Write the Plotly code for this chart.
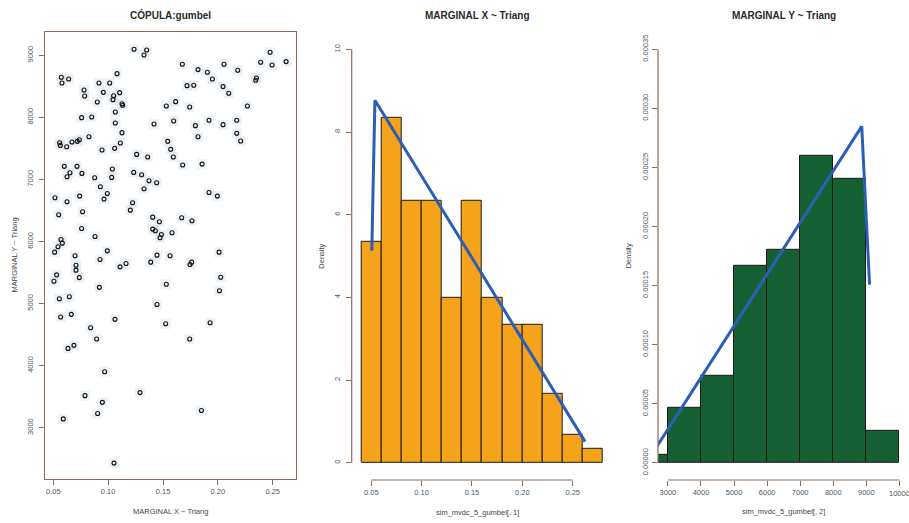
import plotly.graph_objects as go

# --- simulated Gumbel-copula sample (X, Y) ---
sim_x = [
    0.1236, 0.1351, 0.1327, 0.2476, 0.2622, 0.2390, 0.2494, 0.1676, 0.2056, 0.1819,
    0.1904, 0.2181, 0.1950, 0.2351, 0.2345, 0.1081, 0.0573, 0.0579, 0.0640, 0.0916,
    0.1014, 0.1719, 0.1780, 0.2047, 0.2099, 0.0780, 0.0786, 0.0956, 0.1105, 0.1050,
    0.1044, 0.1126, 0.1132, 0.0901, 0.1530, 0.1615, 0.1743, 0.2269, 0.0758, 0.0850,
    0.1065, 0.1065, 0.1418, 0.1597, 0.1795, 0.1919, 0.2047, 0.2172, 0.2172, 0.2208,
    0.1819, 0.1126, 0.0558, 0.0564, 0.0622, 0.0670, 0.0719, 0.0737, 0.0825, 0.0944,
    0.1059, 0.1111, 0.1543, 0.1570, 0.1594, 0.1260, 0.1360, 0.1679, 0.1856, 0.0600,
    0.0716, 0.0652, 0.0625, 0.0761, 0.0877, 0.1038, 0.1032, 0.1233, 0.1305, 0.1372,
    0.1442, 0.1327, 0.0929, 0.0992, 0.0962, 0.0515, 0.0740, 0.0625, 0.1223, 0.1202,
    0.1919, 0.1995, 0.0767, 0.0549, 0.1406, 0.1467, 0.1670, 0.1764, 0.0758, 0.1406,
    0.1430, 0.1485, 0.1473, 0.1582, 0.0880, 0.0570, 0.0582, 0.0543, 0.0512, 0.0992,
    0.2011, 0.0926, 0.0698, 0.0707, 0.1445, 0.1564, 0.1388, 0.1163, 0.1108, 0.1761,
    0.1746, 0.0707, 0.0530, 0.0506, 0.0737, 0.0920, 0.1530, 0.2026, 0.2014, 0.0555,
    0.0646, 0.1445, 0.0567, 0.0664, 0.1062, 0.1524, 0.1929, 0.0840, 0.0895, 0.1743,
    0.0634, 0.0688, 0.0968, 0.0789, 0.1290, 0.0947, 0.0904, 0.1850, 0.0591, 0.1053,
]
sim_y = [
    9097, 9086, 9005, 9048, 8898, 8887, 8844, 8855, 8855, 8769,
    8726, 8758, 8618, 8634, 8597, 8704, 8645, 8554, 8618, 8554,
    8554, 8511, 8516, 8495, 8387, 8441, 8344, 8403, 8398, 8349,
    8285, 8220, 8194, 8247, 8183, 8253, 8167, 8183, 7995, 8005,
    8086, 7909, 7892, 7941, 7866, 7952, 7882, 7952, 7742, 7618,
    7688, 7753, 7591, 7548, 7527, 7602, 7613, 7640, 7688, 7473,
    7500, 7586, 7613, 7484, 7360, 7403, 7360, 7231, 7247, 7210,
    7210, 7108, 7043, 7097, 7027, 7167, 7032, 7113, 7075, 6978,
    6946, 6849, 6882, 6774, 6683, 6704, 6731, 6640, 6624, 6505,
    6790, 6731, 6478, 6430, 6392, 6317, 6382, 6333, 6210, 6199,
    6172, 6113, 6059, 6140, 6081, 6032, 5973, 5914, 5828, 5849,
    5828, 5710, 5769, 5618, 5780, 5769, 5667, 5645, 5591, 5667,
    5629, 5538, 5462, 5359, 5418, 5261, 5310, 5424, 5207, 5076,
    5109, 4984, 4783, 4826, 4745, 4674, 4690, 4609, 4429, 4429,
    4277, 4326, 3902, 3516, 3565, 3408, 3228, 3277, 3141, 2429,
]

# --- histogram of column 1 (bin counts, width 0.02 starting at 0.04) ---
hx_start, hx_width = 0.04, 0.02
hx_counts = [16, 25, 19, 19, 12, 19, 12, 10, 10, 5, 2, 1]

# --- histogram of column 2 (bin counts, width 1000 starting at 2000) ---
hy_start, hy_width = 2000, 1000
hy_counts = [1, 7, 11, 25, 27, 39, 36, 4]

n_sim = 150

# fitted triangular densities (polyline vertices)
tri_x1 = [0.0505, 0.0536, 0.2623]
tri_d1 = [5.13, 8.77, 0.51]
tri_x2 = [2430, 8861, 9097]
tri_d2 = [0.0000034, 0.0002848, 0.0001508]

# tick labels
sc_xticks = [0.05, 0.10, 0.15, 0.20, 0.25]
sc_yticks = [3000, 4000, 5000, 6000, 7000, 8000, 9000]
hx_xticks = [0.05, 0.10, 0.15, 0.20, 0.25]
hx_yticks = [0, 2, 4, 6, 8, 10]
hy_xticks = [3000, 4000, 5000, 6000, 7000, 8000, 9000, 10000]
hy_yticks = [0.0, 0.00005, 0.00010, 0.00015, 0.00020, 0.00025, 0.00030, 0.00035]

W, H = 909, 523
FONT = "Liberation Sans, Arial, sans-serif"
AXC = "#8c6a5c"
TICKC = "#4f5663"
LABC = "#454545"

fig = go.Figure()

# scatter: faint halo squares + open circles
fig.add_trace(go.Scatter(
    x=sim_x, y=sim_y, mode="markers", xaxis="x", yaxis="y",
    marker=dict(symbol="square", size=10, color="rgba(210,222,232,0.4)", line=dict(width=0)),
    hoverinfo="skip"))
fig.add_trace(go.Scatter(
    x=sim_x, y=sim_y, mode="markers", xaxis="x", yaxis="y",
    marker=dict(symbol="circle-open", size=4, color="#111111", line=dict(width=1.1, color="#111111"))))

# histogram X
hx_centers = [hx_start + hx_width * (i + 0.5) for i in range(len(hx_counts))]
hx_dens = [c / (n_sim * hx_width) for c in hx_counts]
fig.add_trace(go.Bar(
    x=hx_centers, y=hx_dens, width=hx_width, xaxis="x2", yaxis="y2",
    marker=dict(color="#F6A31C", line=dict(color="#1a1a1a", width=1))))
fig.add_trace(go.Scatter(
    x=tri_x1, y=tri_d1, mode="lines", xaxis="x2", yaxis="y2",
    line=dict(color="#2C5FB3", width=3)))

# histogram Y
hy_centers = [hy_start + hy_width * (i + 0.5) for i in range(len(hy_counts))]
hy_dens = [c / (n_sim * hy_width) for c in hy_counts]
fig.add_trace(go.Bar(
    x=hy_centers, y=hy_dens, width=hy_width, xaxis="x3", yaxis="y3",
    marker=dict(color="#166034", line=dict(color="#1a1a1a", width=1))))
fig.add_trace(go.Scatter(
    x=tri_x2, y=tri_d2, mode="lines", xaxis="x3", yaxis="y3",
    line=dict(color="#2C5FB3", width=3)))


def px_x(p):
    return p / W


def px_y(p):
    return 1 - p / H


tickfont = dict(family=FONT, size=7.5, color=TICKC)
common = dict(showgrid=False, zeroline=False, ticks="outside", ticklen=5,
              tickcolor=AXC, tickwidth=1, tickfont=tickfont, fixedrange=True)

fig.update_layout(
    width=W, height=H, margin=dict(l=0, r=0, t=0, b=0),
    paper_bgcolor="white", plot_bgcolor="white", showlegend=False,
    bargap=0,
    xaxis=dict(domain=[px_x(45), px_x(296)], range=[0.04243, 0.2712],
               tickvals=sc_xticks, ticktext=[f"{v:.2f}" for v in sc_xticks],
               showline=True, mirror=True, linecolor=AXC, linewidth=1.4,
               anchor="y", **common),
    yaxis=dict(domain=[px_y(479), px_y(32)], range=[2173, 9375],
               tickvals=sc_yticks, ticktext=[str(v) for v in sc_yticks], tickangle=-90,
               ticklabelstandoff=3,
               showline=True, mirror=True, linecolor=AXC, linewidth=1.4,
               anchor="x", **common),
    xaxis2=dict(domain=[px_x(351.7), px_x(603)], range=[0.03054, 0.2801],
                tickvals=hx_xticks, ticktext=[f"{v:.2f}" for v in hx_xticks],
                showline=False, anchor="y2", **common),
    yaxis2=dict(domain=[px_y(480), px_y(32.8)], range=[-0.418, 10.40],
                tickvals=hx_yticks, ticktext=[str(v) for v in hx_yticks], tickangle=-90,
                ticklabelstandoff=3,
                showline=False, anchor="x2", **common),
    xaxis3=dict(domain=[px_x(658), 1.0], range=[2700, 10290],
                tickvals=hy_xticks, ticktext=[str(v) for v in hy_xticks],
                showline=False, anchor="y3", **common),
    yaxis3=dict(domain=[px_y(480), px_y(32.8)], range=[-0.0000146, 0.000364],
                tickvals=hy_yticks, ticktext=[f"{v:.5f}" for v in hy_yticks], tickangle=-90,
                ticklabelstandoff=1,
                showline=False, anchor="x3", **common),
)

# R-style axis lines spanning first to last tick on the histogram panels
line_style = dict(color=AXC, width=1.2)
shapes = [
    dict(type="line", xref="x2", yref="y2 domain", x0=hx_xticks[0], x1=hx_xticks[-1], y0=0, y1=0, line=line_style),
    dict(type="line", xref="x2 domain", yref="y2", x0=0, x1=0, y0=hx_yticks[0], y1=hx_yticks[-1], line=line_style),
    dict(type="line", xref="x3", yref="y3 domain", x0=hy_xticks[0], x1=hy_xticks[-1], y0=0, y1=0, line=line_style),
    dict(type="line", xref="x3 domain", yref="y3", x0=0, x1=0, y0=hy_yticks[0], y1=hy_yticks[-1], line=line_style),
]
fig.update_layout(shapes=shapes)

titlefont = dict(family=FONT, size=10, color="#2a2a2a")
labfont = dict(family=FONT, size=7.5, color=LABC)


def note(text, x, y, font, angle=0, xref="paper"):
    return dict(text=text, x=px_x(x) if xref == "paper" else x, y=px_y(y), xref=xref, yref="paper",
                showarrow=False, xanchor="center", yanchor="middle",
                font=font, textangle=angle)


fig.update_layout(annotations=[
    note("<b>CÓPULA:gumbel</b>", 170.5, 15, titlefont),
    note("<b>MARGINAL X ~ Triang</b>", 477, 16, titlefont),
    note("<b>MARGINAL Y ~ Triang</b>", 783.5, 16, titlefont),
    note("MARGINAL X ~ Triang", 170.5, 511.5, labfont),
    note("MARGINAL Y ~ Triang", 14, 255.5, labfont, -90),
    note("Density", 320.7, 256, labfont, -90),
    note("sim_mvdc_5_gumbel[, 1]", 477, 512, labfont),
    note("Density", 628.3, 256, labfont, -90),
    note("sim_mvdc_5_gumbel[, 2]", 783.5, 511, labfont),
    # last tick label of the right panel runs past the page edge
    note(str(hy_xticks[-1]), hy_xticks[-1], 493, tickfont, xref="x3"),
])

fig.write_html("out.html")
